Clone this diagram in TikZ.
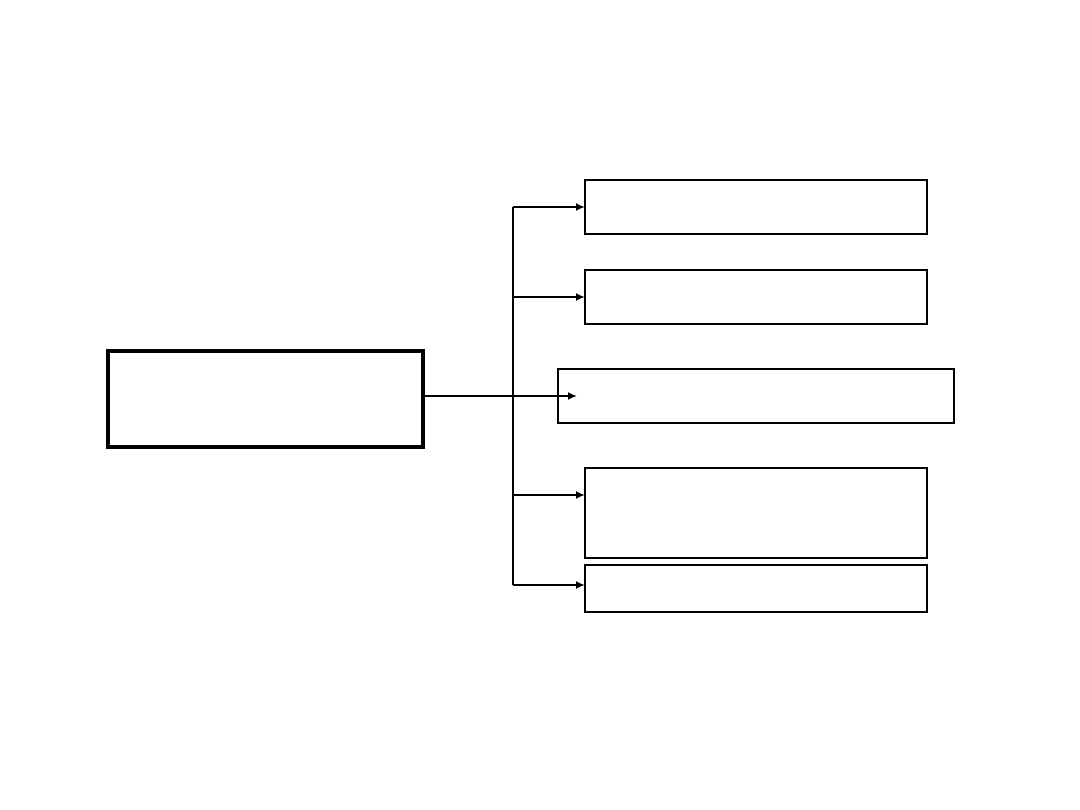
\documentclass[tikz,border=0pt]{standalone}
\usetikzlibrary{arrows.meta}
\begin{document}
\begin{tikzpicture}[x=1pt,y=-1pt,
  box/.style={draw,line width=2pt,inner sep=0pt,outer sep=0pt,anchor=north west},
  mainbox/.style={draw,line width=4pt,inner sep=0pt,outer sep=0pt,anchor=north west},
  conn/.style={line width=2pt},
  arr/.style={line width=2pt,-{Latex[length=9pt,width=8pt]}}]
\useasboundingbox (0,0) rectangle (1080,810);
\node[mainbox,minimum width=315pt,minimum height=96pt] (m) at (108,351) {};
\node[box,minimum width=342pt,minimum height=54pt] (b1) at (585,180) {};
\node[box,minimum width=342pt,minimum height=54pt] (b2) at (585,270) {};
\node[box,minimum width=396pt,minimum height=54pt] (b3) at (558,369) {};
\node[box,minimum width=342pt,minimum height=90pt] (b4) at (585,468) {};
\node[box,minimum width=342pt,minimum height=47pt] (b5) at (585,565) {};
\coordinate (t1) at (513,207);
\coordinate (t2) at (513,297);
\coordinate (t4) at (513,495);
\coordinate (t5) at (513,585);
\coordinate (e3) at (577,396);
\draw[conn] (t1) -- (t5);
\draw[arr] (t1) -- (t1 -| b1.west);
\draw[arr] (t2) -- (t2 -| b2.west);
\draw[arr] (m.east |- e3) -- (e3);
\draw[arr] (t4) -- (t4 -| b4.west);
\draw[arr] (t5) -- (t5 -| b5.west);
\end{tikzpicture}
\end{document}
